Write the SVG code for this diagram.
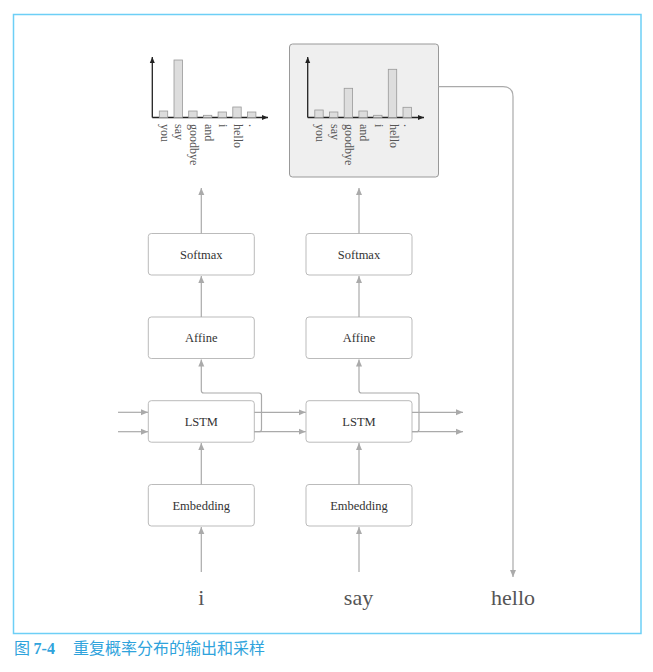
<svg xmlns="http://www.w3.org/2000/svg" width="653" height="672" viewBox="0 0 653 672">
<style>
.box{fill:#fff;stroke:#bbb;stroke-width:1}
.lbl{font-family:"Liberation Serif","DejaVu Serif",serif;font-size:12.5px;fill:#333;text-anchor:middle}
.word{font-family:"Liberation Serif","DejaVu Serif",serif;font-size:22px;fill:#555;text-anchor:middle}
.con{fill:none;stroke:#aaa;stroke-width:1.2}
.bar{fill:#ddd;stroke:#999;stroke-width:0.8}
.axis{fill:none;stroke:#222;stroke-width:1.3}
.tick{font-family:"Liberation Serif","DejaVu Serif",serif;font-size:12px;fill:#555}
.cap{font-family:"Noto Sans CJK SC","Noto Sans",sans-serif;font-size:16px;fill:#2fa3dc}
</style>
<defs>
<marker id="ah" markerWidth="8" markerHeight="8" refX="7" refY="4" orient="auto" markerUnits="userSpaceOnUse">
<path d="M0,1 L7,4 L0,7 Z" fill="#aaa"/>
</marker>
<marker id="ax" markerWidth="8" markerHeight="8" refX="6" refY="4" orient="auto" markerUnits="userSpaceOnUse">
<path d="M0,1.5 L6,4 L0,6.5 Z" fill="#222"/>
</marker>
</defs>
<rect x="13.5" y="14.5" width="627.5" height="619" fill="none" stroke="#6dcff6" stroke-width="1.5"/>

<g id="chart1">
<line class="axis" x1="152.3" y1="117.5" x2="152.3" y2="57" marker-end="url(#ax)"/>
<line class="axis" x1="152.3" y1="117.5" x2="268" y2="117.5" marker-end="url(#ax)"/>
<rect class="bar" x="159.3" y="111" width="8.4" height="6.5"/>
<rect class="bar" x="174" y="60" width="8.4" height="57.5"/>
<rect class="bar" x="188.7" y="111" width="8.4" height="6.5"/>
<rect class="bar" x="203.4" y="115.3" width="8.4" height="2.2"/>
<rect class="bar" x="218.1" y="112" width="8.4" height="5.5"/>
<rect class="bar" x="232.8" y="107" width="8.4" height="10.5"/>
<rect class="bar" x="247.5" y="112" width="8.4" height="5.5"/>
<text class="tick" transform="translate(160.5,124) rotate(90)">you</text>
<text class="tick" transform="translate(175.2,124) rotate(90)">say</text>
<text class="tick" transform="translate(189.9,124) rotate(90)">goodbye</text>
<text class="tick" transform="translate(204.6,124) rotate(90)">and</text>
<text class="tick" transform="translate(219.3,124) rotate(90)">i</text>
<text class="tick" transform="translate(234,124) rotate(90)">hello</text>
<text class="tick" transform="translate(248.7,124) rotate(90)">.</text>
</g>

<g id="chart2">
<rect x="289.5" y="44" width="149" height="133" rx="3" fill="#efefef" stroke="#999" stroke-width="1"/>
<line class="axis" x1="307.7" y1="117.5" x2="307.7" y2="57" marker-end="url(#ax)"/>
<line class="axis" x1="307.7" y1="117.5" x2="424" y2="117.5" marker-end="url(#ax)"/>
<rect class="bar" x="314.8" y="110" width="8.4" height="7.5"/>
<rect class="bar" x="329.5" y="112" width="8.4" height="5.5"/>
<rect class="bar" x="344.2" y="88.3" width="8.4" height="29.2"/>
<rect class="bar" x="358.9" y="111" width="8.4" height="6.5"/>
<rect class="bar" x="373.6" y="115.3" width="8.4" height="2.2"/>
<rect class="bar" x="388.3" y="69.3" width="8.4" height="48.2"/>
<rect class="bar" x="403" y="107.3" width="8.4" height="10.2"/>
<text class="tick" transform="translate(316,124) rotate(90)">you</text>
<text class="tick" transform="translate(330.7,124) rotate(90)">say</text>
<text class="tick" transform="translate(345.4,124) rotate(90)">goodbye</text>
<text class="tick" transform="translate(360.1,124) rotate(90)">and</text>
<text class="tick" transform="translate(374.8,124) rotate(90)">i</text>
<text class="tick" transform="translate(389.5,124) rotate(90)">hello</text>
<text class="tick" transform="translate(404.2,124) rotate(90)">.</text>
</g>

<g id="softmax1"><rect class="box" x="148.3" y="233.5" width="106" height="41.5" rx="3"/><text class="lbl" x="201.3" y="258.5">Softmax</text></g>
<g id="affine1"><rect class="box" x="148.3" y="317" width="106" height="41.5" rx="3"/><text class="lbl" x="201.3" y="342">Affine</text></g>
<g id="lstm1"><rect class="box" x="148.3" y="400.7" width="106" height="41.5" rx="3"/><text class="lbl" x="201.3" y="425.5">LSTM</text></g>
<g id="embedding1"><rect class="box" x="148.3" y="484.5" width="106" height="41.5" rx="3"/><text class="lbl" x="201.3" y="509.5">Embedding</text></g>

<g id="softmax2"><rect class="box" x="306" y="233.5" width="106" height="41.5" rx="3"/><text class="lbl" x="359" y="258.5">Softmax</text></g>
<g id="affine2"><rect class="box" x="306" y="317" width="106" height="41.5" rx="3"/><text class="lbl" x="359" y="342">Affine</text></g>
<g id="lstm2"><rect class="box" x="306" y="400.7" width="106" height="41.5" rx="3"/><text class="lbl" x="359" y="425.5">LSTM</text></g>
<g id="embedding2"><rect class="box" x="306" y="484.5" width="106" height="41.5" rx="3"/><text class="lbl" x="359" y="509.5">Embedding</text></g>

<g id="word_i"><text class="word" x="201.3" y="605">i</text></g>
<g id="word_say"><text class="word" x="358.5" y="605">say</text></g>
<g id="word_hello"><text class="word" x="513" y="605">hello</text></g>

<g id="connectors">
<line class="con" x1="201.3" y1="572" x2="201.3" y2="527" marker-end="url(#ah)"/>
<line class="con" x1="201.3" y1="484.5" x2="201.3" y2="443" marker-end="url(#ah)"/>
<line class="con" x1="201.3" y1="317" x2="201.3" y2="276" marker-end="url(#ah)"/>
<line class="con" x1="201.3" y1="233.5" x2="201.3" y2="188" marker-end="url(#ah)"/>
<line class="con" x1="359" y1="572" x2="359" y2="527" marker-end="url(#ah)"/>
<line class="con" x1="359" y1="484.5" x2="359" y2="443" marker-end="url(#ah)"/>
<line class="con" x1="359" y1="317" x2="359" y2="276" marker-end="url(#ah)"/>
<line class="con" x1="359" y1="233.5" x2="359" y2="188" marker-end="url(#ah)"/>
<line class="con" x1="118" y1="412.3" x2="148" y2="412.3" marker-end="url(#ah)"/>
<line class="con" x1="118" y1="431.7" x2="148" y2="431.7" marker-end="url(#ah)"/>
<line class="con" x1="254.3" y1="412.3" x2="305.7" y2="412.3" marker-end="url(#ah)"/>
<line class="con" x1="254.3" y1="431.7" x2="305.7" y2="431.7" marker-end="url(#ah)"/>
<path class="con" d="M254.3,431.7 H259 Q261.5,431.7 261.5,429.2 V395.5 Q261.5,393 259,393 H203.8 Q201.3,393 201.3,390.5 V359.5" marker-end="url(#ah)"/>
<line class="con" x1="412" y1="412.3" x2="463" y2="412.3" marker-end="url(#ah)"/>
<line class="con" x1="412" y1="431.7" x2="463" y2="431.7" marker-end="url(#ah)"/>
<path class="con" d="M412,431.7 H416.5 Q419,431.7 419,429.2 V395.5 Q419,393 416.5,393 H361.5 Q359,393 359,390.5 V359.5" marker-end="url(#ah)"/>
<path class="con" d="M438.5,86.7 H503 Q513,86.7 513,96.7 V577" marker-end="url(#ah)"/>
</g>

<text class="cap" x="14" y="654">图 <tspan font-weight="bold" font-family="Liberation Serif,serif" font-size="16">7-4</tspan><tspan x="73">重复概率分布的输出和采样</tspan></text>
</svg>
